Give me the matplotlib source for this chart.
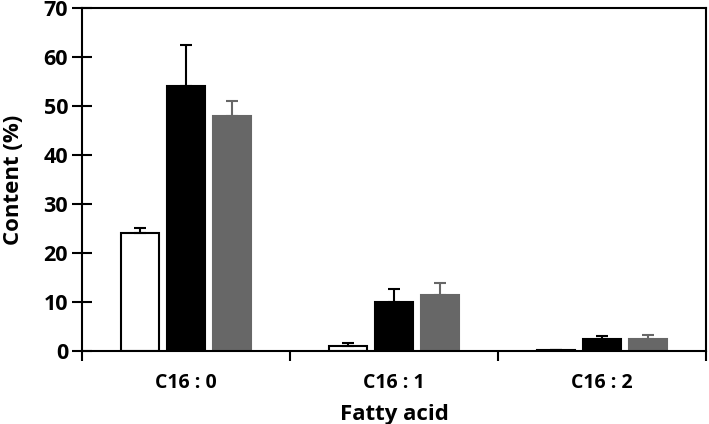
import matplotlib
matplotlib.use("Agg")
import matplotlib.pyplot as plt
import numpy as np

# fatty acid content, three samples per acid
acids = ["C16 : 0", "C16 : 1", "C16 : 2"]
white_vals = [24.0, 1.0, 0.1]
white_err = [1.0, 0.5, 0.0]
black_vals = [54.1, 9.9, 2.3]
black_err = [8.4, 2.7, 0.7]
gray_vals = [48.0, 11.4, 2.4]
gray_err = [3.0, 2.5, 0.9]

plt.rcParams['font.family'] = ['Open Sans', 'DejaVu Sans']
plt.rcParams['font.weight'] = 'bold'

fig = plt.figure(figsize=(7.09, 4.24), dpi=100)
ax = fig.add_axes([82/709, 1 - 350.7/424, 624/709, 342.4/424])

x = np.arange(len(acids))
w = 0.18
off = 0.222
ax.bar(x - off, white_vals, w, color='white', edgecolor='black', linewidth=1.5,
       yerr=[np.zeros(3), white_err], error_kw=dict(ecolor='black', elinewidth=1.5, capsize=4, capthick=1.5))
ax.bar(x, black_vals, w, color='black', edgecolor='black', linewidth=1.5,
       yerr=[np.zeros(3), black_err], error_kw=dict(ecolor='black', elinewidth=1.5, capsize=4, capthick=1.5))
ax.bar(x + off, gray_vals, w, color='#676767', edgecolor='#676767', linewidth=1.5,
       yerr=[np.zeros(3), gray_err], error_kw=dict(ecolor='#676767', elinewidth=1.5, capsize=4, capthick=1.5))

ax.set_xlim(-0.5, 2.5)
ax.set_ylim(0, 70)
ax.set_yticks(range(0, 71, 10))
ax.set_xticks(x)
ax.set_xticklabels(acids, fontsize=14, fontweight='bold')
ax.set_xticks([-0.5, 0.5, 1.5, 2.5], minor=True)
ax.tick_params(axis='x', which='major', length=0, pad=16)
ax.tick_params(axis='x', which='minor', length=7, width=1.5, direction='out')
ax.tick_params(axis='y', length=14, width=1.5, direction='inout', labelsize=15.5, pad=3)
for lab in ax.get_yticklabels():
    lab.set_fontweight('bold')

for s in ax.spines.values():
    s.set_linewidth(1.5)

ax.set_ylabel("Content (%)", fontsize=16, fontweight='bold')
ax.yaxis.set_label_coords(-0.093, 0.5)
ax.set_xlabel("Fatty acid", fontsize=16, fontweight='bold', labelpad=8)

fig.savefig("out.png", dpi=100)
